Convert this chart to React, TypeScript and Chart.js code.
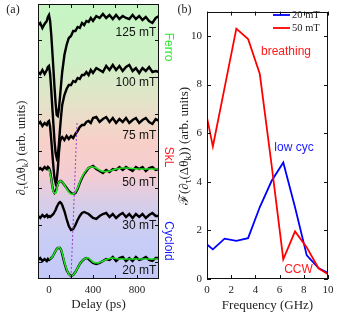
import React, { useEffect, useRef } from 'react';
import { Chart, registerables } from 'chart.js';
Chart.register(...registerables);

// ---------- Panel (a): time traces ----------
const DELAY_PS = [-100, -80, -60, -40, -20, -10, 0, 10, 20, 30, 40, 50, 60, 70, 80, 90, 100, 110, 120, 140, 160, 180, 200, 220, 240, 260, 280, 300, 320, 340, 360, 380, 400,
  430, 460, 490, 520, 550, 580, 610, 640, 670, 700, 730, 760, 790, 820, 850, 880, 910, 940, 970, 1000];
const TRACE_125MT = [254, 256, 251, 255, 258, 262, 264, 258, 245, 228, 210, 192, 176, 164, 163, 170, 182, 195, 207, 224, 234, 241, 243, 248, 248, 252, 251, 256, 254, 258, 257, 261, 258,
  263, 261, 265, 261, 264, 260, 264, 260, 263, 261, 260, 264, 260, 263, 259, 262, 258, 256, 261, 263];
const TRACE_100MT = [207, 205, 209, 205, 209, 212, 213, 205, 190, 172, 155, 138, 126, 121, 124, 135, 150, 163, 174, 184, 190, 194, 194, 198, 197, 201, 200, 204, 204, 207, 204, 209, 206,
  211, 209, 207, 213, 209, 214, 209, 213, 208, 212, 214, 208, 211, 206, 211, 208, 212, 207, 208, 207];
const TRACE_75MT = [155, 157, 153, 156, 154, 157, 158, 152, 140, 126, 112, 101, 96, 99, 110, 126, 137, 141, 142, 139, 143, 140, 143, 141, 145, 148, 152, 154, 154, 157, 158, 156, 161,
  162, 157, 160, 162, 157, 161, 156, 160, 157, 161, 156, 159, 161, 156, 159, 161, 157, 155, 160, 158];
const TRACE_50MT = [109, 111, 109, 112, 110, 112, 111, 108, 101, 93, 88, 86, 87, 91, 95, 97, 98, 98, 97, 94, 91, 88, 86, 85, 86, 90, 96, 101, 105, 108, 111, 112, 113,
  110, 108, 106, 109, 107, 110, 109, 112, 109, 112, 110, 108, 112, 110, 112, 108, 111, 112, 109, 110];
const TRACE_30MT = [63, 61, 64, 62, 64, 62, 63, 62, 63, 64, 65, 67, 69, 72, 74, 76, 77, 76, 74, 68, 60, 53, 49, 50, 54, 59, 63, 66, 67, 66, 65, 63, 61,
  60, 63, 65, 66, 62, 65, 61, 64, 66, 62, 65, 61, 65, 62, 65, 61, 64, 66, 63, 63];
const TRACE_20MT = [19, 21, 18, 20, 18, 20, 19, 20, 21, 22, 24, 26, 28, 30, 31, 31, 31, 29, 25, 16, 9, 5, 3, 4, 7, 11, 15, 18, 20, 21, 20, 18, 16,
  15, 16, 18, 20, 19, 22, 18, 21, 22, 18, 21, 18, 22, 19, 20, 22, 19, 18, 21, 21];

const FIT_DELAY_PS = [0, 20, 40, 60, 80, 100, 120, 140, 160, 180, 200, 220, 240, 260, 280, 300, 320, 340, 360, 380, 400, 430, 460, 490, 520, 550, 580, 610, 640, 670, 700, 760, 820, 880, 940, 1000];
const FIT_50MT = [110, 100, 87, 86, 94, 98, 97, 94, 90, 87, 85, 85, 87, 91, 97, 102, 106, 109, 111, 112, 112, 111, 109, 107.5, 107.5, 108, 109, 110, 110.5, 111, 111, 110.5, 110, 110, 110, 110];
const FIT_20MT = [20, 21, 24, 28, 31, 31, 26, 17, 10, 5, 3, 4, 7, 11, 15, 18, 20, 21, 21, 19, 17, 16, 16.5, 18, 19.5, 20.5, 21, 20.5, 20, 20, 20, 20, 20, 20, 20, 20];

const MARKER_DELAY_PS = [255, 200];
const MARKER_LEVEL = [156, 1];

const FIELD_LABELS = ['125 mT', '100 mT', '75 mT', '50 mT', '30 mT', '20 mT'];
const PHASE_LABELS = ['Ferro', 'SkL', 'Cycloid'];
const DELAY_TICKS = [0, 200, 400, 600, 800];
const DELAY_TICK_LABELS = [0, 400, 800];
const LEVEL_TICKS = [17, 54, 91, 128, 165, 202, 239];

// ---------- Panel (b): spectra ----------
const FREQ_GHZ = [0, 0.485, 1.455, 2.425, 3.395, 4.365, 5.335, 6.305, 7.275, 8.245, 9.215, 10.185];
const SPEC_20MT = [1.42, 1.22, 1.66, 1.57, 1.68, 2.96, 4.03, 4.79, 2.95, 0.97, 0.45, 0.2];
const SPEC_50MT = [6.64, 5.45, 7.87, 10.3, 9.87, 8.43, 4.7, 0.81, 1.96, 1.3, 0.44, 0.14];
const SPEC_LABELS = ['20 mT', '50 mT'];
const FREQ_TICKS = [0, 2, 4, 6, 8, 10];
const AMP_TICKS = [0, 2, 4, 6, 8, 10];
const MODE_LABELS = ['breathing', 'low cyc', 'CCW'];

const SERIF = 'Liberation Serif';
const SANS = 'Liberation Sans';

type Part = [string, boolean];
function drawRich(ctx: CanvasRenderingContext2D, parts: Part[], cx: number, cy: number, size: number) {
  const subSize = size * 0.72;
  let total = 0;
  for (const [t, sub] of parts) {
    ctx.font = `${sub ? subSize : size}px "${SERIF}"`;
    total += ctx.measureText(t).width;
  }
  let x = cx - total / 2;
  ctx.textAlign = 'left';
  ctx.textBaseline = 'middle';
  for (const [t, sub] of parts) {
    ctx.font = `${sub ? subSize : size}px "${SERIF}"`;
    ctx.fillText(t, x, sub ? cy + size * 0.28 : cy);
    x += ctx.measureText(t).width;
  }
}

function frameAndTicks(chart: any) {
  const { ctx, chartArea: a, scales } = chart;
  const L = 4;
  ctx.save();
  ctx.strokeStyle = '#111';
  ctx.lineWidth = 1;
  ctx.beginPath();
  scales.x.ticks.forEach((t: any) => {
    const px = Math.round(scales.x.getPixelForValue(t.value)) + 0.5;
    ctx.moveTo(px, a.bottom); ctx.lineTo(px, a.bottom - L);
    ctx.moveTo(px, a.top); ctx.lineTo(px, a.top + L);
  });
  scales.y.ticks.forEach((t: any) => {
    const py = Math.round(scales.y.getPixelForValue(t.value)) + 0.5;
    ctx.moveTo(a.left, py); ctx.lineTo(a.left + L, py);
    ctx.moveTo(a.right, py); ctx.lineTo(a.right - L, py);
  });
  ctx.stroke();
  ctx.strokeRect(Math.round(a.left) + 0.5, Math.round(a.top) + 0.5, Math.round(a.width) - 1, Math.round(a.height) - 1);
  ctx.restore();
}

const panelAPlugin = {
  id: 'panelA',
  beforeDraw(chart: any) {
    const { ctx, chartArea: a } = chart;
    const g = ctx.createLinearGradient(0, a.top, 0, a.bottom);
    g.addColorStop(0, 'rgb(198,246,196)');
    g.addColorStop(0.2, 'rgb(206,240,198)');
    g.addColorStop(0.35, 'rgb(226,228,200)');
    g.addColorStop(0.5, 'rgb(248,208,200)');
    g.addColorStop(0.62, 'rgb(244,204,210)');
    g.addColorStop(0.73, 'rgb(214,205,233)');
    g.addColorStop(0.86, 'rgb(200,205,246)');
    g.addColorStop(1, 'rgb(196,200,248)');
    ctx.save();
    ctx.fillStyle = g;
    ctx.fillRect(a.left, a.top, a.width, a.height);
    ctx.restore();
  },
  afterDraw(chart: any) {
    const { ctx, chartArea: a, scales } = chart;
    frameAndTicks(chart);
    ctx.save();
    ctx.fillStyle = '#111';
    ctx.font = `12px "${SANS}"`;
    ctx.textAlign = 'right';
    ctx.textBaseline = 'middle';
    const labelLevels = [246, 196, 143, 96, 53, 8];
    FIELD_LABELS.forEach((s, i) => {
      ctx.fillText(s, scales.x.getPixelForValue(975), scales.y.getPixelForValue(labelLevels[i]));
    });
    const phaseColors = ['#2ee82e', '#ff2020', '#1a1aff'];
    const phaseY = [47, 157, 241];
    PHASE_LABELS.forEach((s, i) => {
      ctx.save();
      ctx.translate(a.right + 9, phaseY[i]);
      ctx.rotate(Math.PI / 2);
      ctx.fillStyle = phaseColors[i];
      ctx.font = `12px "${SANS}"`;
      ctx.textAlign = 'center';
      ctx.textBaseline = 'middle';
      ctx.fillText(s, 0, 0);
      ctx.restore();
    });
    ctx.fillStyle = '#222';
    ctx.font = `12px "${SERIF}"`;
    ctx.textAlign = 'center';
    ctx.textBaseline = 'middle';
    ctx.fillText('(a)', 13, 10);
    ctx.font = `13px "${SERIF}"`;
    ctx.fillText('Delay (ps)', (a.left + a.right) / 2, 305);
    ctx.save();
    ctx.translate(22, 148);
    ctx.rotate(-Math.PI / 2);
    drawRich(ctx, [['∂', false], ['τ', true], ['(Δθ', false], ['k', true], [') (arb. units)', false]], 0, 0, 12.5);
    ctx.restore();
    ctx.restore();
  },
};

const panelBPlugin = {
  id: 'panelB',
  afterDraw(chart: any) {
    const { ctx, chartArea: a } = chart;
    frameAndTicks(chart);
    ctx.save();
    // legend
    const ds = chart.data.datasets;
    const legendY = [15, 28];
    SPEC_LABELS.forEach((s, i) => {
      ctx.strokeStyle = ds[i].borderColor;
      ctx.lineWidth = 1.8;
      ctx.beginPath();
      ctx.moveTo(98, legendY[i]);
      ctx.lineTo(115, legendY[i]);
      ctx.stroke();
      ctx.fillStyle = '#222';
      ctx.font = `10.5px "${SERIF}"`;
      ctx.textAlign = 'left';
      ctx.textBaseline = 'middle';
      ctx.fillText(s, 117, legendY[i]);
    });
    // mode annotations
    const modeColors = ['#ff1a1a', '#1a1aff', '#ff1a1a'];
    const modeX = [111, 119, 123.5];
    const modeY = [52, 148, 270];
    ctx.font = `12px "${SANS}"`;
    ctx.textAlign = 'center';
    ctx.textBaseline = 'middle';
    MODE_LABELS.forEach((s, i) => {
      ctx.fillStyle = modeColors[i];
      ctx.fillText(s, modeX[i], modeY[i]);
    });
    ctx.fillStyle = '#222';
    ctx.font = `12px "${SERIF}"`;
    ctx.fillText('(b)', 9.5, 10);
    ctx.font = `13px "${SERIF}"`;
    ctx.fillText('Frequency (GHz)', (a.left + a.right) / 2, 306);
    ctx.save();
    ctx.translate(10, 146);
    ctx.rotate(-Math.PI / 2);
    drawRich(ctx, [['ℱ(∂', false], ['τ', true], ['(Δθ', false], ['k', true], [')) (arb. units)', false]], 0, 0, 13);
    ctx.restore();
    ctx.restore();
  },
};

const pts = (xs: number[], ys: number[]) => xs.map((x, i) => ({ x, y: ys[i] }));

export default function App() {
  const refA = useRef<HTMLCanvasElement>(null);
  const refB = useRef<HTMLCanvasElement>(null);

  useEffect(() => {
    const tickFont = { size: 11, family: SERIF };
    const noGrid = { display: false, drawTicks: false };
    const black = (ys: number[]) => ({
      data: pts(DELAY_PS, ys), borderColor: '#000', borderWidth: 2.4, pointRadius: 0, tension: 0, order: 2,
    });
    const green = (ys: number[]) => ({
      data: pts(FIT_DELAY_PS, ys), borderColor: '#22e022', borderWidth: 1.6, pointRadius: 0, tension: 0.4, order: 1,
    });
    const chartA = new Chart(refA.current!, {
      type: 'line',
      data: {
        datasets: [
          black(TRACE_125MT), black(TRACE_100MT), black(TRACE_75MT), black(TRACE_50MT), black(TRACE_30MT), black(TRACE_20MT),
          green(FIT_50MT), green(FIT_20MT),
          { data: pts(MARKER_DELAY_PS, MARKER_LEVEL), borderColor: '#9b3fc8', borderWidth: 1, borderDash: [2, 2], pointRadius: 0, order: 0 },
        ] as any,
      },
      options: {
        animation: false, responsive: false, devicePixelRatio: 1,
        layout: { padding: { left: 0, right: 16, top: 4, bottom: 0 } },
        plugins: { legend: { display: false }, tooltip: { enabled: false } },
        scales: {
          x: {
            type: 'linear', min: -100, max: 1000,
            grid: noGrid, border: { display: false },
            afterBuildTicks: (s: any) => { s.ticks = DELAY_TICKS.map((v) => ({ value: v })); },
            ticks: { autoSkip: false, maxRotation: 0, padding: 5, color: '#222', font: tickFont,
              callback: (v: any) => (DELAY_TICK_LABELS.includes(Number(v)) ? String(v) : '') },
            afterFit: (s: any) => { s.height = 34; },
          },
          y: {
            type: 'linear', min: 0, max: 275,
            grid: noGrid, border: { display: false },
            afterBuildTicks: (s: any) => { s.ticks = LEVEL_TICKS.map((v) => ({ value: v })); },
            ticks: { display: false },
            afterFit: (s: any) => { s.width = 38; },
          },
        },
      } as any,
      plugins: [panelAPlugin],
    });

    const chartB = new Chart(refB.current!, {
      type: 'line',
      data: {
        datasets: [
          { label: SPEC_LABELS[0], data: pts(FREQ_GHZ, SPEC_20MT), borderColor: '#0000ff', borderWidth: 1.8, pointRadius: 0, order: 1 },
          { label: SPEC_LABELS[1], data: pts(FREQ_GHZ, SPEC_50MT), borderColor: '#ff0000', borderWidth: 1.8, pointRadius: 0, order: 0 },
        ],
      },
      options: {
        animation: false, responsive: false, devicePixelRatio: 1,
        layout: { padding: { left: 0, right: 21, top: 4, bottom: 0 } },
        plugins: { legend: { display: false }, tooltip: { enabled: false } },
        scales: {
          x: {
            type: 'linear', min: 0, max: 10,
            grid: noGrid, border: { display: false },
            afterBuildTicks: (s: any) => { s.ticks = FREQ_TICKS.map((v) => ({ value: v })); },
            ticks: { autoSkip: false, maxRotation: 0, padding: 5, color: '#222', font: tickFont },
            afterFit: (s: any) => { s.height = 34; },
          },
          y: {
            type: 'linear', min: 0, max: 11,
            grid: noGrid, border: { display: false },
            afterBuildTicks: (s: any) => { s.ticks = AMP_TICKS.map((v) => ({ value: v })); },
            ticks: { padding: 5, color: '#222', font: tickFont },
            afterFit: (s: any) => { s.width = 32; },
          },
        },
      } as any,
      plugins: [panelBPlugin],
    });
    return () => { chartA.destroy(); chartB.destroy(); };
  }, []);

  return (
    <div style={{ position: 'absolute', left: 0, top: 0, width: 349, height: 313, background: '#fff' }}>
      <canvas ref={refA} width={175} height={313} style={{ position: 'absolute', left: 0, top: 0, width: 175, height: 313 }} />
      <canvas ref={refB} width={174} height={313} style={{ position: 'absolute', left: 175, top: 0, width: 174, height: 313 }} />
    </div>
  );
}
